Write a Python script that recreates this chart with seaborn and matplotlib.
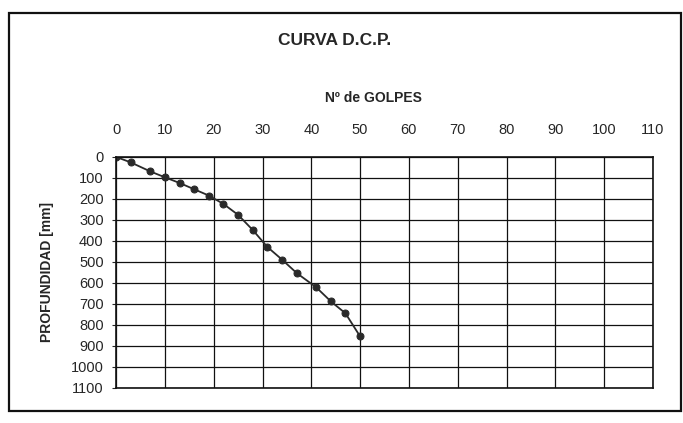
import matplotlib
matplotlib.use("Agg")
import matplotlib.pyplot as plt
import pandas as pd
import seaborn as sns
from matplotlib.patches import Rectangle

# blows vs penetration depth
golpes = [0, 3, 7, 10, 13, 16, 19, 22, 25, 28, 31, 34, 37, 41, 44, 47, 50]
profundidad = [0, 26, 69, 97, 124, 154, 184, 224, 276, 348, 429, 489, 553, 621, 688, 745, 855]
x_ticks = list(range(0, 111, 10))
y_ticks = list(range(0, 1101, 100))

df = pd.DataFrame({"golpes": golpes, "profundidad": profundidad})

sns.set_style("white")
plt.rcParams["font.family"] = ["Liberation Sans", "DejaVu Sans"]

fig = plt.figure(figsize=(6.83, 4.23), dpi=100)
ax = fig.add_axes([0.170, 0.083, 0.786, 0.546])

sns.lineplot(data=df, x="golpes", y="profundidad", ax=ax, color="#2a2a2a",
             marker="o", markersize=5, markeredgecolor="#2a2a2a", linewidth=1.3)

ax.set_xlim(0, 110)
ax.set_ylim(1100, 0)
ax.set_xticks(x_ticks)
ax.set_yticks(y_ticks)
ax.xaxis.tick_top()
ax.xaxis.set_label_position("top")
ax.tick_params(axis="x", length=0, pad=14, labelsize=10.5)
ax.tick_params(axis="y", length=3, pad=6, labelsize=10.5, left=True)
ax.grid(True, color="#111111", linewidth=0.9)
for s in ax.spines.values():
    s.set_color("#111111")
    s.set_linewidth(1.2)

ax.set_xlabel("Nº de GOLPES", fontsize=10, fontweight="bold", labelpad=14)
ax.xaxis.set_label_coords(0.48, 1.24)
ax.set_ylabel("PROFUNDIDAD [mm]", fontsize=10, fontweight="bold", labelpad=12)

fig.text(0.49, 0.905, "CURVA D.C.P.", ha="center", va="center",
         fontsize=12.5, fontweight="bold")

# outer frame of the sheet
fig.patches.append(Rectangle((0.013, 0.028), 0.984, 0.942, transform=fig.transFigure,
                             fill=False, edgecolor="#111111", linewidth=1.6))

plt.savefig("out.png", dpi=100)
plt.close()
